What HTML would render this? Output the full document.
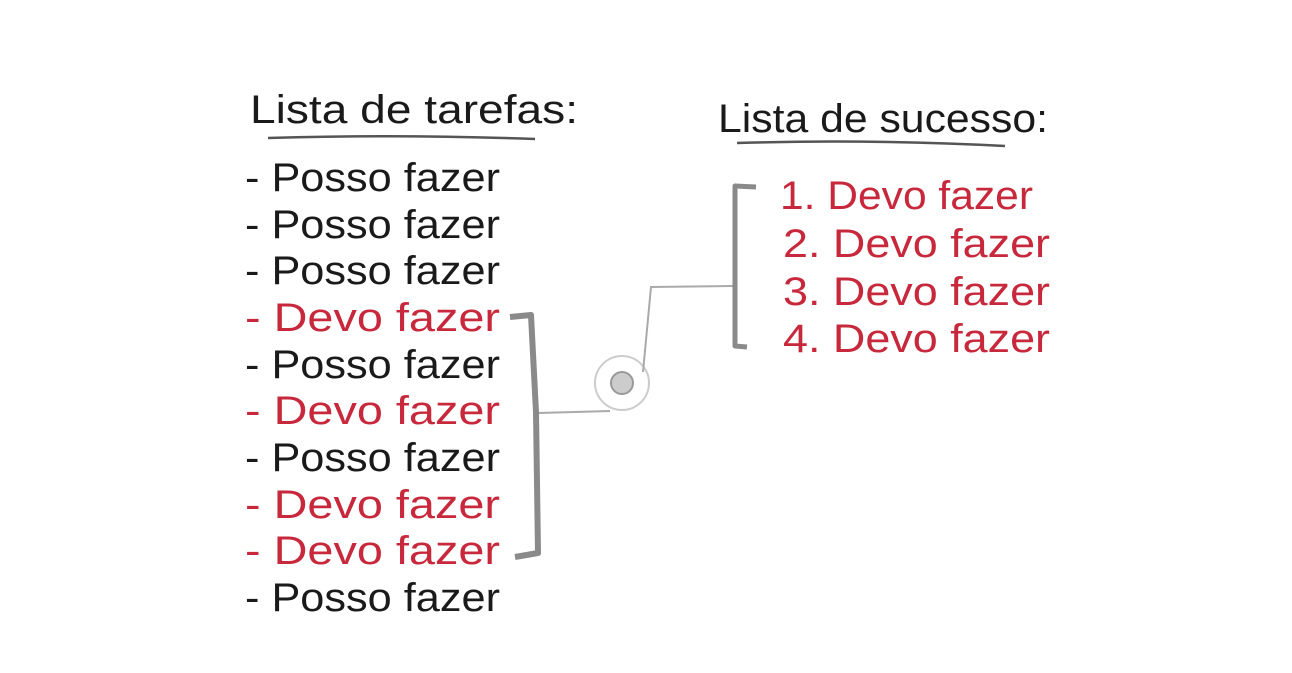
<!DOCTYPE html>
<html><head><meta charset="utf-8"><style>
html,body{margin:0;padding:0;background:#fff;}
svg{display:block;}
text{font-family:"Liberation Sans",sans-serif;font-size:40px;}
.k{fill:#1a1a1a}.r{fill:#c8283c}
</style></head><body>
<svg width="1292" height="673" viewBox="0 0 1292 673" xmlns="http://www.w3.org/2000/svg">
<rect width="1292" height="673" fill="#fff"/>
<text class="k" x="250" y="123" textLength="328" lengthAdjust="spacingAndGlyphs">Lista de tarefas:</text>
<path d="M268 138 Q400 134 535 139" stroke="#555" stroke-width="2.5" fill="none"/>
<text class="k" x="718" y="132" textLength="330" lengthAdjust="spacingAndGlyphs">Lista de sucesso:</text>
<path d="M737 143 Q870 139 1005 146" stroke="#555" stroke-width="2.5" fill="none"/>
<g>
<text class="k" x="245" y="191" textLength="255" lengthAdjust="spacingAndGlyphs">- Posso fazer</text>
<text class="k" x="245" y="238" textLength="255" lengthAdjust="spacingAndGlyphs">- Posso fazer</text>
<text class="k" x="245" y="284" textLength="255" lengthAdjust="spacingAndGlyphs">- Posso fazer</text>
<text class="r" x="245" y="331" textLength="255" lengthAdjust="spacingAndGlyphs">- Devo fazer</text>
<text class="k" x="245" y="378" textLength="255" lengthAdjust="spacingAndGlyphs">- Posso fazer</text>
<text class="r" x="245" y="424" textLength="255" lengthAdjust="spacingAndGlyphs">- Devo fazer</text>
<text class="k" x="245" y="471" textLength="255" lengthAdjust="spacingAndGlyphs">- Posso fazer</text>
<text class="r" x="245" y="518" textLength="255" lengthAdjust="spacingAndGlyphs">- Devo fazer</text>
<text class="r" x="245" y="564" textLength="255" lengthAdjust="spacingAndGlyphs">- Devo fazer</text>
<text class="k" x="245" y="611" textLength="255" lengthAdjust="spacingAndGlyphs">- Posso fazer</text>
</g>
<g>
<text class="r" x="780" y="209" textLength="253" lengthAdjust="spacingAndGlyphs">1. Devo fazer</text>
<text class="r" x="783" y="257" textLength="267" lengthAdjust="spacingAndGlyphs">2. Devo fazer</text>
<text class="r" x="783" y="305" textLength="267" lengthAdjust="spacingAndGlyphs">3. Devo fazer</text>
<text class="r" x="783" y="352" textLength="267" lengthAdjust="spacingAndGlyphs">4. Devo fazer</text>
</g>
<path d="M510 317 L531 315 L536 412 L538 553 L515 557" stroke="#8a8a8a" stroke-width="6" fill="none" stroke-linejoin="round"/>
<path d="M539 413 L610 411" stroke="#aaa" stroke-width="2" fill="none"/>
<circle cx="622" cy="383" r="27" fill="none" stroke="#ccc" stroke-width="2"/>
<circle cx="622" cy="383" r="11" fill="#ccc" stroke="#999" stroke-width="2"/>
<path d="M643 372 L651 287 L733 286" stroke="#aaa" stroke-width="2" fill="none"/>
<path d="M756 187 L735 186 L735 346 L747 347" stroke="#8a8a8a" stroke-width="5" fill="none" stroke-linejoin="round"/>
</svg>
</body></html>
